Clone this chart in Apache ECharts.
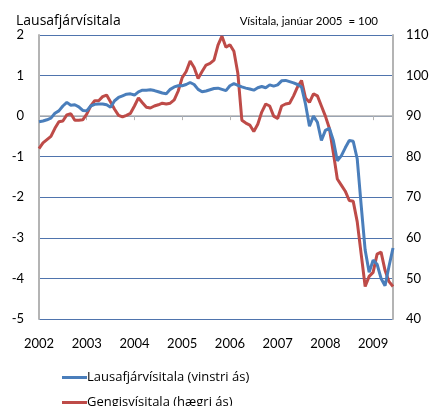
<!DOCTYPE html>
<html>
<head>
<meta charset="utf-8">
<script src="https://cdn.jsdelivr.net/npm/echarts@6/dist/echarts.min.js"></script>
<style>
    html, body {margin: 0; padding: 0; background: #fff;}
    #chart {width: 438px; height: 406px;}
</style>
</head>
<body>
<div id="chart"></div>
<script>
// monthly, jan 2002 - jun 2009
const months = [];
for (let y = 2002; y <= 2009; y++) {
    for (let m = 1; m <= 12; m++) {
        if (y === 2009 && m > 6) break;
        months.push(y + '-' + String(m).padStart(2, '0'));
    }
}

// Lausafjárvísitala (left axis)
const lausafje = [
    -0.14, -0.12, -0.09, -0.05, 0.07, 0.13, 0.25, 0.34, 0.27, 0.28,
    0.23, 0.14, 0.13, 0.25, 0.29, 0.3, 0.3, 0.28, 0.22, 0.38,
    0.46, 0.5, 0.54, 0.55, 0.52, 0.6, 0.64, 0.64, 0.65, 0.63,
    0.6, 0.57, 0.55, 0.66, 0.72, 0.75, 0.75, 0.78, 0.83, 0.78,
    0.66, 0.6, 0.62, 0.65, 0.68, 0.69, 0.66, 0.63, 0.75, 0.8,
    0.76, 0.72, 0.69, 0.67, 0.64, 0.7, 0.73, 0.7, 0.77, 0.74,
    0.77, 0.87, 0.88, 0.85, 0.82, 0.78, 0.72, 0.3, -0.25, 0.0,
    -0.15, -0.6, -0.35, -0.3, -0.6, -1.1, -0.98, -0.78, -0.6, -0.62,
    -1.05, -2.2, -3.3, -3.85, -3.55, -3.65, -4.0, -4.18, -3.7, -3.25
];

// Gengisvísitala (right axis, jan 2005 = 100)
const gengi = [
    82.0, 83.4, 84.2, 85.0, 87.0, 88.6, 88.8, 90.3, 90.6, 89.0,
    89.0, 89.1, 90.5, 92.5, 93.8, 93.8, 94.8, 95.2, 93.5, 91.7,
    90.2, 89.8, 90.2, 90.7, 92.5, 94.5, 93.3, 92.2, 92.0, 92.5,
    92.8, 93.2, 93.0, 93.2, 94.0, 96.2, 99.5, 101.0, 103.6, 102.0,
    99.3, 101.0, 102.6, 103.0, 103.8, 107.5, 109.7, 107.0, 107.6, 106.0,
    100.5, 89.0, 88.3, 87.8, 86.2, 88.0, 91.0, 93.0, 92.5, 90.0,
    89.4, 92.5, 93.0, 93.2, 95.0, 97.2, 98.8, 94.5, 93.4, 95.5,
    95.0, 92.5, 90.0, 87.0, 81.0, 74.5, 73.0, 71.5, 69.2, 69.0,
    64.0, 56.0, 48.0, 50.5, 51.5, 56.0, 56.5, 52.0, 49.2, 48.0
];

const series_names = ['Lausafjárvísitala (vinstri ás)', 'Gengisvísitala (hægri ás)'];

const font = 'Lato, "Liberation Sans", sans-serif';
const wide_font = '"Open Sans", "Liberation Sans", sans-serif';
const grid_blue = '#4f74ad';
const axis_grey = '#b4b4b4';

let my_chart = echarts.init(document.getElementById('chart'));

// one legend per row, the second one runs off the bottom like the original
let legends = series_names.map((name, i) => ({
    orient: 'horizontal', left: 57, top: 366 + i * 25,
    icon: 'rect', itemWidth: 25, itemHeight: 3,
    textStyle: {fontSize: 13, color: '#000', fontFamily: wide_font, padding: [0, 0, 0, -5]},
    data: [name]
}));

let option = {
    animation: false,
    textStyle: {fontFamily: font},
    title: [{
        text: 'Lausafjárvísitala', left: 11, top: 9,
        textStyle: {fontSize: 14, fontWeight: 'normal', color: '#000', fontFamily: wide_font}
    }, {
        text: 'Vísitala, janúar 2005  = 100', right: 55, top: 10,
        textStyle: {fontSize: 11.5, fontWeight: 'normal', color: '#000', fontFamily: font}
    }],
    legend: legends,
    grid: {left: 39, right: 45, top: 35, bottom: 87},
    xAxis: [{
        type: 'category', data: months, boundaryGap: false,
        axisLine: {onZero: true, onZeroAxisIndex: 0, lineStyle: {color: axis_grey, width: 1.5}},
        axisTick: {show: true, length: 4, interval: (i) => i % 12 === 0, lineStyle: {color: axis_grey}},
        axisLabel: {show: false},
        splitLine: {show: false}
    }, {
        type: 'category', data: months, boundaryGap: false, position: 'bottom',
        axisLine: {show: false}, axisTick: {show: false},
        axisLabel: {
            interval: (i) => i % 12 === 0, margin: 18, fontSize: 13, color: '#000', fontFamily: font,
            formatter: (v) => v.slice(0, 4)
        },
        splitLine: {show: false}
    }],
    yAxis: [{
        type: 'value', min: -5, max: 2, interval: 1, position: 'left',
        axisLine: {show: true, lineStyle: {color: axis_grey, width: 2}},
        axisTick: {show: false},
        axisLabel: {fontSize: 13, color: '#000', margin: 15, fontFamily: font},
        splitLine: {show: true, lineStyle: {color: grid_blue, width: 1}}
    }, {
        type: 'value', min: 40, max: 110, interval: 10, position: 'right',
        axisLine: {show: true, lineStyle: {color: axis_grey, width: 2}},
        axisTick: {show: false},
        axisLabel: {fontSize: 13, color: '#000', margin: 13, fontFamily: font},
        splitLine: {show: false}
    }],
    series: [{
        name: series_names[0], type: 'line', data: lausafje,
        xAxisIndex: 0, yAxisIndex: 0, symbol: 'none', z: 3,
        lineStyle: {color: '#4a7ebb', width: 3}, itemStyle: {color: '#4a7ebb'}
    }, {
        name: series_names[1], type: 'line', data: gengi,
        xAxisIndex: 0, yAxisIndex: 1, symbol: 'none', z: 2,
        lineStyle: {color: '#be4b48', width: 3}, itemStyle: {color: '#be4b48'}
    }]
};

my_chart.setOption(option);
</script>
</body>
</html>
